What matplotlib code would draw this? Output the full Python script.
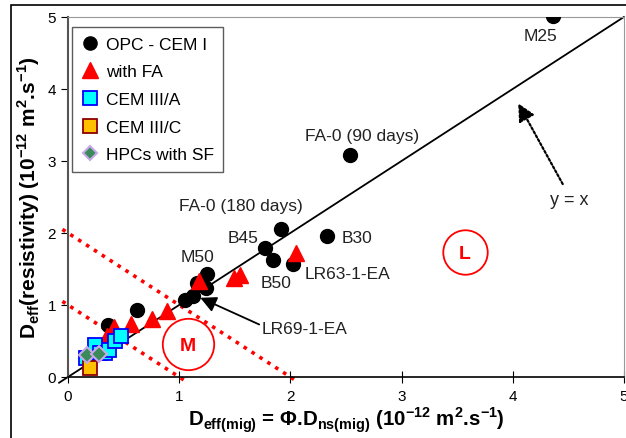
import numpy as np
import matplotlib
matplotlib.use("Agg")
import matplotlib.pyplot as plt
from matplotlib.patches import Rectangle

plt.rcParams["font.family"] = ["Liberation Sans", "DejaVu Sans"]
plt.rcParams["mathtext.fontset"] = "custom"
plt.rcParams["mathtext.rm"] = "Liberation Sans"
plt.rcParams["mathtext.bf"] = "Liberation Sans:bold"

# data (10^-12 m2/s)
opc_x = [0.36, 0.62, 1.05, 1.12, 1.16, 1.24, 1.25, 1.77, 1.84, 1.92, 2.02, 2.33, 2.54, 4.36]
opc_y = [0.72, 0.93, 1.07, 1.13, 1.31, 1.23, 1.43, 1.79, 1.62, 2.06, 1.57, 1.96, 3.08, 5.01]
fa_x = [0.35, 0.41, 0.57, 0.76, 0.89, 1.18, 1.49, 1.55, 2.05]
fa_y = [0.57, 0.69, 0.74, 0.80, 0.92, 1.34, 1.38, 1.41, 1.72]
c3a_x = [0.16, 0.24, 0.29, 0.33, 0.37, 0.42, 0.48]
c3a_y = [0.26, 0.45, 0.34, 0.33, 0.38, 0.50, 0.57]
c3c_x = [0.20]
c3c_y = [0.13]
sf_x = [0.17, 0.28]
sf_y = [0.30, 0.32]

labels = ["M25", "FA-0 (90 days)", "FA-0 (180 days)", "B45", "B30", "B50", "LR63-1-EA", "M50"]
label_x = [4.10, 2.13, 1.00, 1.44, 2.46, 1.73, 2.13, 1.01]
label_y = [4.74, 3.35, 2.38, 1.94, 1.94, 1.31, 1.44, 1.67]

fig = plt.figure(figsize=(6.26, 4.39), dpi=100)
fig.patches.append(Rectangle((0.017, -0.05), 1.1, 1.036, transform=fig.transFigure,
                             fill=False, edgecolor="black", lw=1.2))
ax = fig.add_axes([0.1086, 0.139, 0.888, 0.82])

# y = x and boundaries
line = np.array([-0.08, 5.0])
ax.plot(line, line, color="black", lw=1.3, clip_on=False, zorder=2)
for c in [1, 2]:
    bx = np.array([-0.05, c + 0.07])
    ax.plot(bx, c - bx, color="red", lw=2.6, ls=(0, (1, 1.6)), clip_on=False, zorder=2)

ax.plot(opc_x, opc_y, "o", color="black", ms=10, label="OPC - CEM I", zorder=3)
ax.plot(fa_x, fa_y, "^", color="red", ms=12, label="with FA", zorder=4)
ax.plot(c3a_x, c3a_y, "s", mfc="cyan", mec="blue", mew=1.3, ms=10, label="CEM III/A", zorder=5)
ax.plot(c3c_x, c3c_y, "s", mfc="#ffc000", mec="#8b0000", mew=1.3, ms=10, label="CEM III/C", zorder=5)
ax.plot(sf_x, sf_y, "D", mfc="#3a8a5a", mec="#c8a8e8", mew=1.5, ms=8, label="HPCs with SF", zorder=6)

for t, x, y in zip(labels, label_x, label_y):
    ax.text(x, y, t, fontsize=12.5, color="#222222", ha="left", va="center")

# zone circles
ax.plot([1.08], [0.46], "o", mfc="none", mec="red", mew=1.3, ms=37, zorder=2)
ax.text(1.08, 0.44, "M", color="red", fontsize=14, fontweight="bold", ha="center", va="center")
ax.plot([3.57], [1.74], "o", mfc="none", mec="red", mew=1.3, ms=32, zorder=2)
ax.text(3.57, 1.72, "L", color="red", fontsize=14, fontweight="bold", ha="center", va="center")

ax.annotate("LR69-1-EA", xy=(1.19, 1.10), xytext=(1.745, 0.67), fontsize=12.5, color="#222222",
            va="center", ha="left",
            arrowprops=dict(arrowstyle="-|>", color="black", lw=1.3, mutation_scale=24,
                            shrinkA=0, shrinkB=0, relpos=(0, 0.7)))
ax.annotate("", xy=(4.05, 3.80), xytext=(4.45, 2.68),
            arrowprops=dict(arrowstyle="-|>", color="black", lw=1.6, ls=(0, (1, 1)),
                            mutation_scale=26, shrinkA=0, shrinkB=0))
ax.text(4.34, 2.47, "y = x", fontsize=13, color="#222222", ha="left", va="center")

ax.set_xlim(0, 5)
ax.set_ylim(0, 5)
ax.set_xticks(range(6))
ax.set_yticks(range(6))
ax.tick_params(axis="x", direction="inout", length=8, labelsize=11, pad=5)
ax.tick_params(axis="y", direction="out", length=5, labelsize=11)
for s in ["top", "right"]:
    ax.spines[s].set_color("#999999")
ax.spines["left"].set_color("#555555")
ax.spines["left"].set_linewidth(1.5)
ax.spines["bottom"].set_linewidth(1.2)

ax.set_xlabel(r"$\mathbf{D}_{\mathbf{eff(mig)}}$ = $\mathbf{\Phi}$.$\mathbf{D}_{\mathbf{ns(mig)}}$"
              r" (10$^{\mathbf{-12}}$ m$^{\mathbf{2}}$.s$^{\mathbf{-1}}$)",
              fontsize=14.8, fontweight="bold", labelpad=1)
ax.set_ylabel(r"$\mathbf{D}_{\mathbf{eff}}$(resistivity) (10$^{\mathbf{-12}}$ m$^{\mathbf{2}}$.s$^{\mathbf{-1}}$)",
              fontsize=15, fontweight="bold", labelpad=4)

leg = ax.legend(loc="upper left", bbox_to_anchor=(0.007, 0.972), borderaxespad=0, fontsize=12.5,
                frameon=True, fancybox=False, edgecolor="#333333", handlelength=1.0,
                handletextpad=0.4, borderpad=0.55, labelspacing=0.72, numpoints=1,
                markerscale=0.95)
leg.get_frame().set_linewidth(1.0)

fig.savefig("out.png", dpi=100)
